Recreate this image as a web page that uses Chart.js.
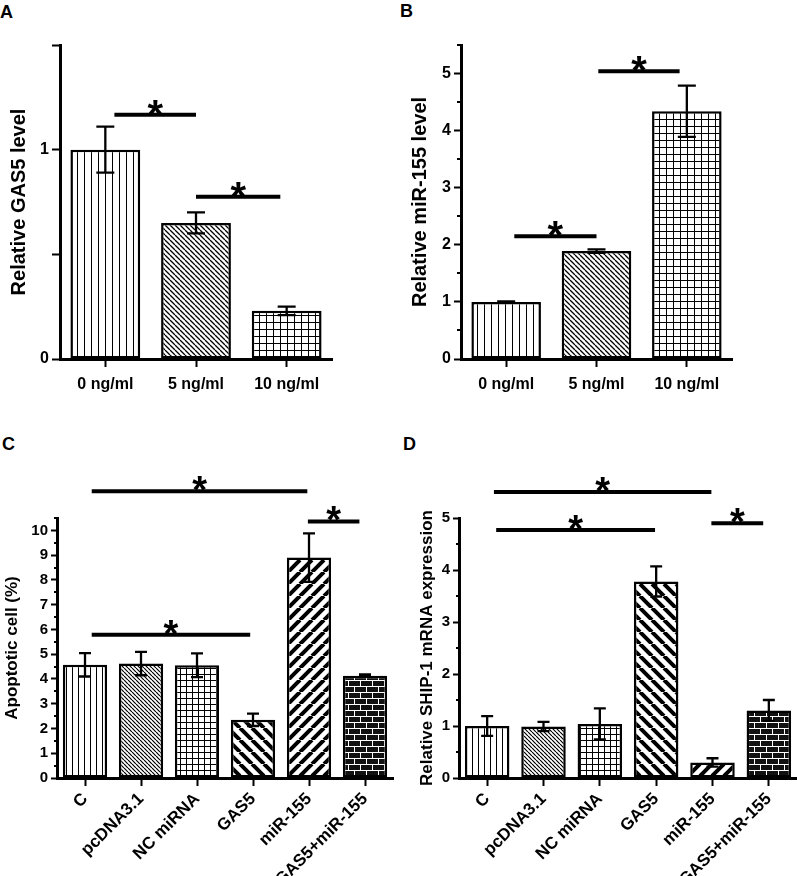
<!DOCTYPE html>
<html><head><meta charset="utf-8">
<script src="https://cdn.jsdelivr.net/npm/chart.js@4.4.1/dist/chart.umd.min.js"></script>
<style>
html,body{margin:0;padding:0;background:#fff;width:797px;height:876px;overflow:hidden;position:relative;font-family:"Liberation Sans",Arial,sans-serif;}
canvas{position:absolute;}
.lbl{position:absolute;font-weight:bold;font-size:18px;line-height:1;color:#000;}
</style></head><body>
<div class="lbl" style="left:0;top:3px">A</div>
<div class="lbl" style="left:400px;top:2px">B</div>
<div class="lbl" style="left:2px;top:435px">C</div>
<div class="lbl" style="left:403px;top:435px">D</div>
<canvas id="cA" width="400" height="400" style="left:0;top:0"></canvas>
<canvas id="cB" width="397" height="400" style="left:400px;top:0"></canvas>
<canvas id="cC" width="400" height="436" style="left:0;top:440px"></canvas>
<canvas id="cD" width="397" height="436" style="left:400px;top:440px"></canvas>
<script>
// ---------------- data ----------------
const doseCats = ['0 ng/ml', '5 ng/ml', '10 ng/ml'];
const gas5Level = [1.00, 0.65, 0.23];
const gas5Err = [0.11, 0.05, 0.02];
const mir155Level = [1.00, 1.89, 4.34];
const mir155Err = [0.01, 0.03, 0.45];

const groupCats = ['C', 'pcDNA3.1', 'NC miRNA', 'GAS5', 'miR-155', 'GAS5+miR-155'];
const apoptosis = [4.57, 4.62, 4.55, 2.35, 8.90, 4.13];
const apoptosisErr = [0.47, 0.47, 0.48, 0.25, 0.98, 0.05];
const ship1 = [1.00, 0.99, 1.04, 3.78, 0.30, 1.30];
const ship1Err = [0.19, 0.09, 0.30, 0.29, 0.08, 0.20];

// significance brackets: [from category, to category, y value]
const sigA = [[0.1, 1.0, 1.167], [1.0, 1.93, 0.775]];
const sigB = [[0.09, 1.0, 2.15], [1.02, 1.92, 5.04]];
const sigC = [[0.12, 3.97, 11.58], [3.98, 4.9, 10.36], [0.12, 2.95, 5.79]];
const sigD = [[0.12, 3.98, 5.5], [0.16, 2.98, 4.77], [3.98, 4.9, 4.9]];

// ---------------- patterns ----------------
const FF = '"Liberation Sans", Arial, sans-serif';
function tile(w, h, draw) {
  const c = document.createElement('canvas'); c.width = w; c.height = h;
  const g = c.getContext('2d'); g.fillStyle = '#fff'; g.fillRect(0, 0, w, h);
  draw(g, w, h);
  return document.createElement('canvas').getContext('2d').createPattern(c, 'repeat');
}
const vert = s => tile(s, s, (g, w, h) => { g.fillStyle = '#000'; g.fillRect(0, 0, 1, h); });
const grid = s => tile(s, s, (g, w, h) => { g.fillStyle = '#000'; g.fillRect(0, 0, w, 1); g.fillRect(0, 0, 1, h); });
const diag = (s, lw, back) => tile(s, s, (g) => {
  g.strokeStyle = '#000'; g.lineWidth = lw; g.beginPath();
  for (let k = -1; k <= 1; k++) {
    if (back) { g.moveTo(k * s, 0); g.lineTo(k * s + s, s); }
    else { g.moveTo(k * s, s); g.lineTo(k * s + s, 0); }
  }
  g.stroke();
});
const brick = () => tile(12, 12, (g) => {
  g.fillStyle = '#111'; g.fillRect(0, 0, 12, 12);
  g.fillStyle = '#fff';
  g.fillRect(0, 0, 12, 1); g.fillRect(0, 6, 12, 1);
  g.fillRect(0, 0, 1, 6); g.fillRect(6, 6, 1, 6);
});

// ---------------- overlay plugin ----------------
const overlay = {
  id: 'overlay',
  afterDraw(chart) {
    const o = chart.options.plugins.overlay;
    const ctx = chart.ctx, xs = chart.scales.x, ys = chart.scales.y;
    ctx.save();
    ctx.strokeStyle = '#000'; ctx.fillStyle = '#000'; ctx.lineCap = 'butt';
    if (o.minorLen) {
      ctx.lineWidth = 2;
      ys.ticks.forEach(t => {
        if (!Number.isInteger(t.value)) {
          const py = Math.round(ys.getPixelForValue(t.value));
          ctx.beginPath(); ctx.moveTo(ys.right - o.minorLen, py); ctx.lineTo(ys.right, py); ctx.stroke();
        }
      });
    }
    const meta = chart.getDatasetMeta(0);
    const vals = chart.data.datasets[0].data;
    ctx.lineWidth = o.errLW;
    meta.data.forEach((bar, i) => {
      const v = vals[i], e = o.err[i];
      const yt = ys.getPixelForValue(v + e), yb = ys.getPixelForValue(v - e);
      ctx.beginPath();
      ctx.moveTo(bar.x, yt); ctx.lineTo(bar.x, yb);
      ctx.moveTo(bar.x - o.cap / 2, yt); ctx.lineTo(bar.x + o.cap / 2, yt);
      ctx.moveTo(bar.x - o.cap / 2, yb); ctx.lineTo(bar.x + o.cap / 2, yb);
      ctx.stroke();
    });
    const p0 = xs.getPixelForTick(0), step = xs.getPixelForTick(1) - p0;
    const px = f => p0 + f * step;
    o.sig.forEach(([a, b, yv]) => {
      const y = ys.getPixelForValue(yv);
      ctx.lineWidth = o.sigLW;
      ctx.beginPath(); ctx.moveTo(px(a), y); ctx.lineTo(px(b), y); ctx.stroke();
      ctx.font = 'bold ' + o.star + 'px ' + FF;
      ctx.textAlign = 'center'; ctx.textBaseline = 'alphabetic';
      ctx.fillText('*', (px(a) + px(b)) / 2, y - o.starGap + 0.42 * o.star);
    });
    ctx.restore();
  }
};

function makeChart(id, cfg) {
  const yopts = {
    type: 'linear', min: 0, max: cfg.max,
    ticks: {
      stepSize: cfg.step, autoSkip: false, color: '#000', padding: 3,
      font: { family: FF, weight: 'bold', size: cfg.yTickSize },
      callback: cfg.label
    },
    grid: {
      drawOnChartArea: false, drawTicks: true, tickLength: cfg.yTickLen, tickWidth: 2, color: '#000',
      tickColor: c => (cfg.minorLen && c.tick && !Number.isInteger(c.tick.value)) ? 'rgba(0,0,0,0)' : '#000'
    },
    border: { display: true, width: 3, color: '#000' },
    title: {
      display: true, text: cfg.title, color: '#000',
      font: { family: FF, weight: 'bold', size: cfg.titleSize },
      padding: { top: cfg.titlePad, bottom: 0 }
    },
    afterFit: s => { s.width = cfg.yWidth; }
  };
  const xopts = {
    type: 'category', offset: true,
    ticks: {
      color: '#000', autoSkip: false, padding: cfg.xPad,
      maxRotation: cfg.rot, minRotation: cfg.rot,
      font: { family: FF, weight: 'bold', size: cfg.xTickSize }
    },
    grid: { drawOnChartArea: false, offset: false, tickLength: 8, tickWidth: 2, color: '#000' },
    border: { display: true, width: 3, color: '#000' },
    afterFit: s => { s.height = cfg.xHeight; }
  };
  return new Chart(document.getElementById(id), {
    type: 'bar',
    data: {
      labels: cfg.cats,
      datasets: [{
        data: cfg.vals, backgroundColor: cfg.fills, borderColor: '#000', borderWidth: 2.5,
        borderSkipped: false, barPercentage: cfg.barPct, categoryPercentage: 1
      }]
    },
    options: {
      responsive: false, animation: false, devicePixelRatio: 1,
      layout: { padding: cfg.pad },
      plugins: {
        legend: { display: false }, tooltip: { enabled: false },
        overlay: { err: cfg.err, sig: cfg.sig, cap: cfg.cap, errLW: 2.3, sigLW: 4, star: cfg.star, starGap: 4, minorLen: cfg.minorLen }
      },
      scales: { x: xopts, y: yopts }
    },
    plugins: [overlay]
  });
}

const intLabel = v => Number.isInteger(v) ? String(v) : '';

makeChart('cA', {
  cats: doseCats, vals: gas5Level, err: gas5Err, sig: sigA,
  fills: [vert(7), diag(5, 1.3, true), grid(7)],
  max: 1.5, step: 0.5, label: v => (v === 0 || v === 1) ? String(v) : '',
  minorLen: 0, yTickLen: 8, yTickSize: 16,
  title: 'Relative GAS5 level', titleSize: 20, titlePad: 7.5, yWidth: 60,
  xTickSize: 16, xPad: 8, rot: 0, xHeight: 41, barPct: 0.77,
  pad: { left: 0, right: 68, top: 45, bottom: 0 }, cap: 18, star: 40
});
makeChart('cB', {
  cats: doseCats, vals: mir155Level, err: mir155Err, sig: sigB,
  fills: [vert(7), diag(5, 1.3, true), grid(7)],
  max: 5.5, step: 0.5, label: intLabel,
  minorLen: 4, yTickLen: 7, yTickSize: 16,
  title: 'Relative miR-155 level', titleSize: 20, titlePad: 8, yWidth: 61,
  xTickSize: 16, xPad: 8, rot: 0, xHeight: 41, barPct: 0.77,
  pad: { left: 0, right: 65, top: 45, bottom: 0 }, cap: 18, star: 40
});
makeChart('cC', {
  cats: groupCats, vals: apoptosis, err: apoptosisErr, sig: sigC,
  fills: [vert(6), diag(4, 1.2, true), grid(6), diag(12, 4, true), diag(12, 4, false), brick()],
  max: 10.5, step: 0.5, label: intLabel,
  minorLen: 3, yTickLen: 6, yTickSize: 15,
  title: 'Apoptotic cell (%)', titleSize: 17, titlePad: 2, yWidth: 57,
  xTickSize: 17, xPad: 3, rot: 45, xHeight: 98, barPct: 0.79,
  pad: { left: 0, right: 7, top: 78, bottom: 0 }, cap: 12, star: 38
});
makeChart('cD', {
  cats: groupCats, vals: ship1, err: ship1Err, sig: sigD,
  fills: [vert(6), diag(4, 1.2, true), grid(6), diag(12, 4, true), diag(12, 4, false), brick()],
  max: 5, step: 0.5, label: intLabel,
  minorLen: 3, yTickLen: 6, yTickSize: 15,
  title: 'Relative SHIP-1 mRNA expression', titleSize: 17, titlePad: 17, yWidth: 59,
  xTickSize: 17, xPad: 3, rot: 45, xHeight: 98, barPct: 0.79,
  pad: { left: 0, right: 0, top: 78, bottom: 0 }, cap: 12, star: 38
});
</script>
</body></html>
